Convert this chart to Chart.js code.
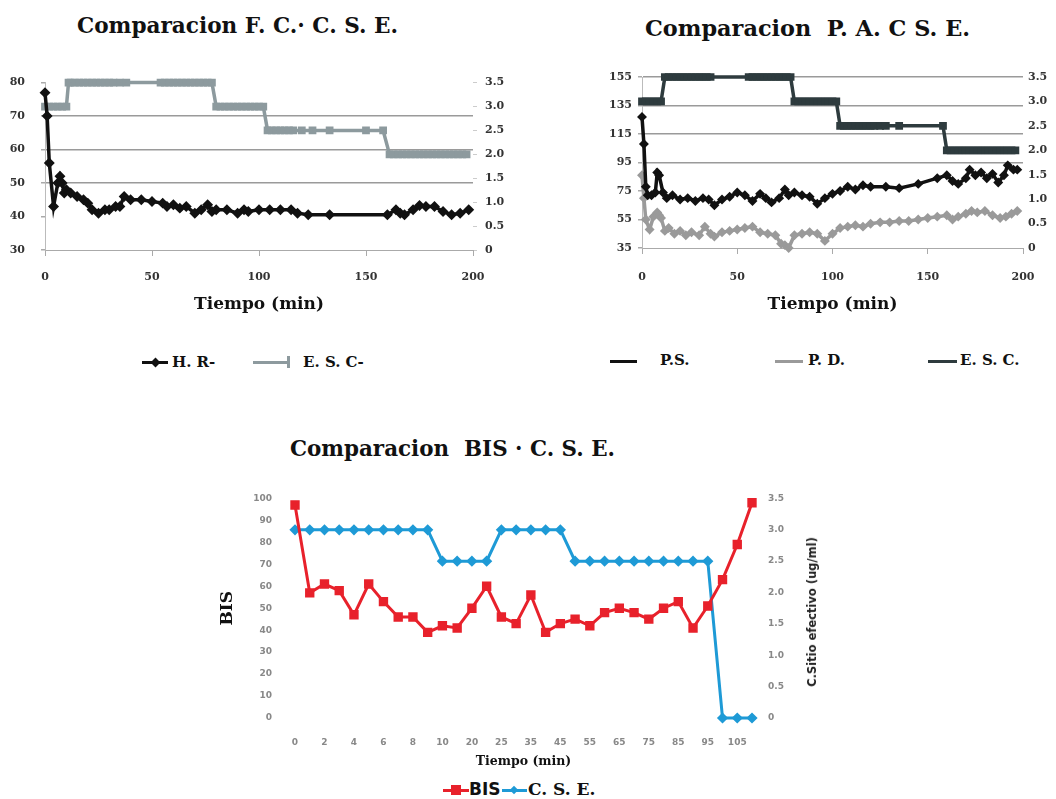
<!DOCTYPE html>
<html><head><meta charset="utf-8">
<script src="https://cdn.jsdelivr.net/npm/chart.js@4.4.1/dist/chart.umd.min.js"></script>
<style>
html,body{margin:0;padding:0;background:#fff;}
body{width:1056px;height:799px;position:relative;overflow:hidden;font-family:'DejaVu Serif',serif;}
canvas{position:absolute;}
.t{position:absolute;font-weight:bold;white-space:nowrap;color:#111;font-size:23px;line-height:28px;transform-origin:0 50%;}
.lg{position:absolute;font-weight:bold;white-space:nowrap;font-size:15px;line-height:20px;color:#111;}
.sw{position:absolute;height:3px;}
.mk{position:absolute;}
.vt{position:absolute;font-family:'DejaVu Sans',sans-serif;font-weight:bold;font-size:11.5px;line-height:14px;color:#222;white-space:nowrap;transform:translate(-50%,-50%) rotate(-90deg);}
</style></head><body>

<div class="t" id="t1" data-w="321" style="left:77px;top:11px">Comparacion F. C.· C. S. E.</div>
<div class="t" id="t2" data-w="325" style="left:645px;top:14px">Comparacion&nbsp; P. A. C S. E.</div>
<div class="t" id="t3" data-w="325" style="left:290px;top:434px">Comparacion&nbsp; BIS · C. S. E.</div>

<canvas id="c1" width="530" height="265" style="left:0;top:60px"></canvas>
<canvas id="c2" width="496" height="265" style="left:560px;top:60px"></canvas>
<canvas id="c3" width="640" height="305" style="left:200px;top:470px"></canvas>

<div class="vt" style="left:812px;top:612px">C.Sitio efectivo (ug/ml)</div>

<!-- legend chart 1 -->
<div class="sw" style="left:142px;top:361px;width:26px;background:#111"></div>
<div class="mk" style="left:152px;top:359px;width:7px;height:7px;background:#111;transform:rotate(45deg)"></div>
<div class="lg" style="left:172px;top:352px">H. R-</div>
<div class="sw" style="left:253px;top:361px;width:37px;background:#8d9a9e"></div>
<div class="mk" style="left:287px;top:356px;width:3px;height:12px;background:#8d9a9e"></div>
<div class="lg" style="left:303px;top:352px">E. S. C-</div>

<!-- legend chart 2 -->
<div class="sw" style="left:610px;top:360px;width:27px;background:#111"></div>
<div class="lg" style="left:660px;top:350px">P.S.</div>
<div class="sw" style="left:775px;top:360px;width:28px;background:#9a9a9a"></div>
<div class="lg" style="left:808px;top:350px">P. D.</div>
<div class="sw" style="left:928px;top:360px;width:29px;background:#2e3b3e"></div>
<div class="lg" style="left:960px;top:350px">E. S. C.</div>

<!-- legend chart 3 -->
<div class="sw" style="left:443px;top:789px;width:26px;background:#e8212b"></div>
<div class="mk" style="left:451px;top:785px;width:10px;height:10px;background:#e8212b"></div>
<div class="lg" style="left:469px;top:778px;font-family:'DejaVu Sans',sans-serif;font-size:17px;line-height:22px">BIS</div>
<div class="sw" style="left:502px;top:789px;width:25px;background:#1e9ad6"></div>
<div class="mk" style="left:511px;top:787px;width:6px;height:6px;background:#1e9ad6;transform:rotate(45deg)"></div>
<div class="lg" style="left:528px;top:778px;font-size:17px;line-height:22px">C. S. E.</div>

<script>
// ---------- Chart 1: Comparacion F. C. - C. S. E. ----------
const hrTime   = [0,1,2,4,6,7,8,9,10,12,15,18,20,22,25,28,30,33,35,37,40,45,50,55,57,60,63,66,70,73,76,78,80,85,90,93,95,100,105,110,115,118,123,133,160,164,166,168,172,175,178,182,186,190,194,198];
const hrValues = [77,70,56,43,50,52,50,47,48,47,46,45,44,42,41,42,42,43,43,46,45,45,44.5,44,43,43.5,42.5,43,41,42,43.5,41.5,42,42,41,42,41.5,42,42,42,42,41,40.5,40.5,40.5,42,41,40.5,42,43.3,43,43,41.5,40.5,41,42];
const esc1Time   = [0,2,4,6,8,10,11,12,14,16,18,20,22,24,26,28,30,32,35,38,54,56,58,60,62,64,66,68,70,72,74,76,78,80,82,84,86,88,90,92,94,96,98,100,102,104,106,108,110,112,114,116,120,125,133,150,158,161,163,165,167,169,171,173,175,177,179,181,183,185,187,189,191,193,195,197];
const esc1Values = [3,3,3,3,3,3,3.5,3.5,3.5,3.5,3.5,3.5,3.5,3.5,3.5,3.5,3.5,3.5,3.5,3.5,3.5,3.5,3.5,3.5,3.5,3.5,3.5,3.5,3.5,3.5,3.5,3.5,3.5,3,3,3,3,3,3,3,3,3,3,3,3,2.5,2.5,2.5,2.5,2.5,2.5,2.5,2.5,2.5,2.5,2.5,2.5,2,2,2,2,2,2,2,2,2,2,2,2,2,2,2,2,2,2,2];
const c1LeftTicks  = [30,40,50,60,70,80];
const c1GridValues = [50,60,70];

// ---------- Chart 2: Comparacion P. A. C S. E. ----------
const psTime   = [0,1,2,3,5,7,8,9,11,13,16,20,24,28,32,35,38,42,46,50,54,58,62,65,68,72,75,77,80,84,88,92,96,100,104,108,112,116,120,128,135,145,155,160,163,166,170,172,175,178,181,184,187,190,192,195,197];
const psValues = [127,108,78,72,72,74,88,86,74,70,72,69,70,68,70,69,65,69,71,74,72,68,73,70,67,70,76,72,74,72,71,66,70,73,75,78,76,79,78,78,77,80,84,86,82,80,84,90,86,88,84,87,81,86,93,90,90];
const pdTime   = [0,1,2,4,6,8,9,10,12,14,17,20,23,26,30,33,36,38,42,46,50,54,58,62,66,70,73,75,77,80,84,88,92,96,100,104,108,112,116,120,125,130,135,140,145,150,155,160,163,166,170,173,176,180,184,188,191,194,197];
const pdValues = [86,70,55,48,57,60,58,56,47,49,45,47,44,46,44,50,45,43,46,47,48,49,50,46,45,44,38,37,35,44,45,46,45,40,45,49,50,51,50,52,53,53,54,54,55,56,57,58,55,57,59,61,60,61,58,56,57,59,61];
const esc2Time   = [0,2,4,6,8,10,12,14,16,18,20,22,24,26,28,30,32,34,36,56,58,60,62,64,66,68,70,72,74,76,78,80,82,84,86,88,90,92,94,96,98,100,102,104,106,108,110,112,114,116,118,120,122,125,128,135,158,160,162,164,166,168,170,172,174,176,178,180,182,184,186,188,190,192,194,196];
const esc2Values = [3,3,3,3,3,3,3.5,3.5,3.5,3.5,3.5,3.5,3.5,3.5,3.5,3.5,3.5,3.5,3.5,3.5,3.5,3.5,3.5,3.5,3.5,3.5,3.5,3.5,3.5,3.5,3.5,3,3,3,3,3,3,3,3,3,3,3,3,2.5,2.5,2.5,2.5,2.5,2.5,2.5,2.5,2.5,2.5,2.5,2.5,2.5,2.5,2,2,2,2,2,2,2,2,2,2,2,2,2,2,2,2,2,2,2];
const c2GridValues = [95,115,135,155];

// ---------- Chart 3: Comparacion BIS - C. S. E. ----------
const bisCategories = ['0','1','2','3','4','5','6','7','8','9','10','15','20','22','25','30','35','40','45','50','55','60','65','70','75','80','85','90','95','100','105','110'];
const bisValues = [97,57,61,58,47,61,53,46,46,39,42,41,50,60,46,43,56,39,43,45,42,48,50,48,45,50,53,41,51,63,79,98];
const cseValues = [3,3,3,3,3,3,3,3,3,3,2.5,2.5,2.5,2.5,3,3,3,3,3,2.5,2.5,2.5,2.5,2.5,2.5,2.5,2.5,2.5,2.5,0,0,0];

// fit titles to reference widths
document.querySelectorAll('.t').forEach(el=>{
  const w = el.getBoundingClientRect().width;
  el.style.transform = 'scaleX(' + (parseFloat(el.dataset.w)/w) + ')';
});

const pts = (xs, ys) => xs.map((x,i)=>({x:x, y:ys[i]}));
const tickFont = {family:"'DejaVu Serif', serif", size:11, weight:'bold'};
const axTitleFont = {family:"'DejaVu Serif', serif", size:17, weight:'bold'};
const smallFont = {family:"'DejaVu Sans', sans-serif", size:9, weight:'bold'};
const fixW = w => (s => { s.width = w; });
const fixH = h => (s => { s.height = h; });
const base = {responsive:false, animation:false, plugins:{legend:{display:false}, tooltip:{enabled:false}}};

new Chart(document.getElementById('c1'), {
  type:'line',
  data:{datasets:[
    {label:'H. R-', data:pts(hrTime,hrValues), yAxisID:'y', borderColor:'#111', backgroundColor:'#111',
     borderWidth:3.5, pointRadius:3, pointStyle:'rectRot', tension:0, clip:false},
    {label:'E. S. C-', data:pts(esc1Time,esc1Values), yAxisID:'y1', borderColor:'#8d9a9e', backgroundColor:'#8d9a9e',
     borderWidth:3.5, pointRadius:3, pointStyle:'rect', tension:0, clip:false}
  ]},
  options:Object.assign({}, base, {
    layout:{padding:{top:12,left:0,right:0,bottom:0}},
    scales:{
      x:{type:'linear', min:0, max:200,
         ticks:{stepSize:50, padding:15, font:tickFont, color:'#333', maxRotation:0},
         grid:{drawOnChartArea:false, tickLength:6, color:'#aaa'}, border:{color:'#aaa'},
         title:{display:true, text:'Tiempo (min)', font:axTitleFont, color:'#111', padding:{top:0,bottom:10}},
         afterFit:fixH(75)},
      y:{min:30, max:80, afterBuildTicks:s=>{ s.ticks = c1LeftTicks.map(v=>({value:v})); },
         ticks:{padding:16, font:tickFont, color:'#333'},
         grid:{color:c=> c1GridValues.includes(c.tick && c.tick.value) ? '#9a9a9a' : 'rgba(0,0,0,0)', tickColor:'#aaa', tickLength:4, lineWidth:1.5},
         border:{color:'#bbb'}, afterFit:fixW(45)},
      y1:{position:'right', min:0, max:3.5,
         ticks:{stepSize:0.5, padding:8, font:tickFont, color:'#333'},
         grid:{drawOnChartArea:false, tickLength:4, color:'#ccc'}, border:{display:false},
         afterFit:fixW(57)}
    }
  })
});

new Chart(document.getElementById('c2'), {
  type:'line',
  data:{datasets:[
    {label:'P.S.', data:pts(psTime,psValues), yAxisID:'y', borderColor:'#111', backgroundColor:'#111',
     borderWidth:3.5, pointRadius:2.5, pointStyle:'rectRot', tension:0, clip:false},
    {label:'P. D.', data:pts(pdTime,pdValues), yAxisID:'y', borderColor:'#9a9a9a', backgroundColor:'#9a9a9a',
     borderWidth:3.5, pointRadius:2.5, pointStyle:'rectRot', tension:0, clip:false},
    {label:'E. S. C.', data:pts(esc2Time,esc2Values), yAxisID:'y1', borderColor:'#2e3b3e', backgroundColor:'#2e3b3e',
     borderWidth:3.5, pointRadius:3, pointStyle:'rect', tension:0, clip:false}
  ]},
  options:Object.assign({}, base, {
    layout:{padding:{top:17,left:0,right:0,bottom:0}},
    scales:{
      x:{type:'linear', min:0, max:200,
         ticks:{stepSize:50, padding:17, font:tickFont, color:'#333', maxRotation:0},
         grid:{drawOnChartArea:false, tickLength:6, color:'#aaa'}, border:{color:'#aaa'},
         title:{display:true, text:'Tiempo (min)', font:axTitleFont, color:'#111', padding:{top:0,bottom:10}},
         afterFit:fixH(77)},
      y:{min:35, max:155,
         ticks:{stepSize:20, padding:6, font:tickFont, color:'#333'},
         grid:{color:c=> c2GridValues.includes(c.tick && c.tick.value) ? '#9a9a9a' : 'rgba(0,0,0,0)', tickColor:'#aaa', tickLength:4, lineWidth:1.5},
         border:{color:'#bbb'}, afterFit:fixW(82)},
      y1:{position:'right', min:0, max:3.5,
         ticks:{stepSize:0.5, padding:5, font:tickFont, color:'#333'},
         grid:{drawOnChartArea:false, drawTicks:false}, border:{display:false},
         afterFit:fixW(33)}
    }
  })
});

new Chart(document.getElementById('c3'), {
  type:'line',
  data:{labels:bisCategories, datasets:[
    {label:'BIS', data:bisValues, yAxisID:'y', borderColor:'#e8212b', backgroundColor:'#e8212b',
     borderWidth:3, pointRadius:4.5, pointStyle:'rect', tension:0, clip:false},
    {label:'C. S. E.', data:cseValues, yAxisID:'y1', borderColor:'#1e9ad6', backgroundColor:'#1e9ad6',
     borderWidth:3, pointRadius:3.5, pointStyle:'rectRot', tension:0, clip:false}
  ]},
  options:Object.assign({}, base, {
    layout:{padding:{top:25,left:0,right:0,bottom:0}},
    scales:{
      x:{offset:false,
         ticks:{autoSkip:false, maxRotation:0, padding:19, font:smallFont, color:'#888',
                callback:function(v,i){ return i % 2 === 0 ? this.getLabelForValue(v) : ''; }},
         grid:{display:false, drawTicks:false}, border:{display:false},
         title:{display:true, text:'Tiempo (min)', font:{family:"'DejaVu Serif', serif", size:12.5, weight:'bold'}, color:'#111', padding:{top:0,bottom:6}},
         afterFit:fixH(57)},
      y:{min:0, max:100,
         ticks:{stepSize:10, padding:23, font:smallFont, color:'#888'},
         grid:{display:false, drawTicks:false}, border:{display:false},
         title:{display:true, text:'BIS', font:{family:"'DejaVu Serif', serif", size:17, weight:'bold'}, color:'#111', padding:{top:17,bottom:0}},
         afterFit:fixW(95)},
      y1:{position:'right', min:0, max:3.5,
         ticks:{stepSize:0.5, padding:16, font:smallFont, color:'#888'},
         grid:{display:false, drawTicks:false}, border:{display:false},
         afterFit:fixW(88)}
    }
  })
});
</script>
</body></html>
